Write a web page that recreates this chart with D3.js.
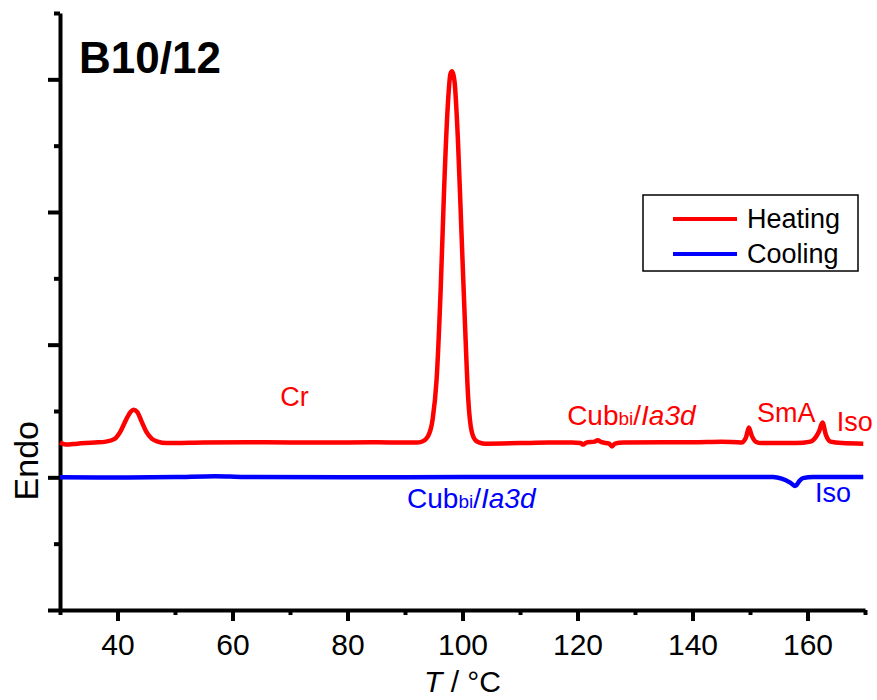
<!DOCTYPE html>
<html>
<head>
<meta charset="utf-8">
<script src="https://cdn.jsdelivr.net/npm/d3@7"></script>
<style>
  body { margin: 0; background: #fff; }
  svg { font-family: "Liberation Sans", Arial, sans-serif; }
</style>
</head>
<body>
<svg id="chart" width="877" height="700"></svg>
<script>
// DSC trace for B10/12 (arbitrary heat-flow units, cooling baseline = 0)
const heatingT = [30, 31, 33, 36, 38, 39.5, 40.5, 41.5, 42.3, 42.8, 43.4, 44.2, 45, 46, 47, 48.5,
  55, 65, 75, 85, 90, 92, 93, 94, 94.8, 95.5, 96.2, 96.8, 97.4, 97.9, 98.2, 98.6, 99.2, 99.8,
  100.4, 101, 101.6, 102.3, 103, 104, 110, 115, 119, 120.5, 121, 121.5, 123, 123.5, 124.2,
  125.5, 126, 126.5, 128, 135, 140, 145, 148.5, 149.3, 149.8, 150.3, 151, 152, 158, 160.5,
  161.5, 162, 162.6, 163.2, 164, 166, 169.7];
const heatingV = [0.262, 0.247, 0.254, 0.262, 0.269, 0.29, 0.345, 0.435, 0.495, 0.51, 0.495, 0.42,
  0.345, 0.29, 0.269, 0.258, 0.262, 0.265, 0.262, 0.265, 0.262, 0.262, 0.27, 0.31, 0.435, 0.74,
  1.41, 2.17, 2.77, 3.04, 3.06, 2.99, 2.55, 1.87, 1.19, 0.59, 0.345, 0.277, 0.262, 0.254, 0.258,
  0.262, 0.262, 0.258, 0.247, 0.262, 0.269, 0.28, 0.265, 0.254, 0.232, 0.254, 0.262, 0.265,
  0.265, 0.269, 0.262, 0.3, 0.375, 0.315, 0.269, 0.258, 0.258, 0.269, 0.307, 0.345, 0.413,
  0.32, 0.269, 0.258, 0.254];

const coolingT = [30, 40, 50, 57, 62, 80, 100, 130, 150, 154, 155.5, 157, 157.9, 158.5, 159.2, 161, 169.7];
const coolingV = [0, -0.002, 0.002, 0.009, 0.002, 0, 0.002, 0.002, 0.003, 0.002, -0.01, -0.04,
  -0.066, -0.033, -0.006, 0.002, 0.003];

const xMajorTicks = [40, 60, 80, 100, 120, 140, 160];
const xMinorTicks = [30, 50, 70, 90, 110, 130, 150, 170];
const yMajorTicks = [-1, 0, 1, 2, 3];
const yMinorTicks = [-0.5, 0.5, 1.5, 2.5, 3.5];

const seriesNames = ['Heating', 'Cooling'];
const seriesColors = ['#ff0000', '#0000ff'];

const svg = d3.select('#chart');

const x = d3.scaleLinear().domain([30, 170]).range([60, 865]);
const y = d3.scaleLinear().domain([-1, 3.5]).range([610, 13]);

const heating = heatingT.map((t, i) => ({ t, v: heatingV[i] }));
const cooling = coolingT.map((t, i) => ({ t, v: coolingV[i] }));

const line = d3.line()
  .x(d => x(d.t))
  .y(d => y(d.v))
  .curve(d3.curveMonotoneX);

// axes
function styleAxis(g) {
  g.select('.domain').attr('stroke', '#000').attr('stroke-width', 4);
  g.selectAll('.tick line').attr('stroke', '#000').attr('stroke-width', 4);
  g.selectAll('.tick text')
    .attr('fill', '#000')
    .attr('font-size', 30)
    .attr('font-family', '"Liberation Sans", Arial, sans-serif');
}

svg.append('g')
  .attr('transform', 'translate(0,610)')
  .call(d3.axisBottom(x).tickValues(xMinorTicks).tickSize(5).tickSizeOuter(0).tickFormat(''))
  .call(styleAxis);

svg.append('g')
  .attr('transform', 'translate(0,610)')
  .call(d3.axisBottom(x).tickValues(xMajorTicks).tickSize(11).tickSizeOuter(0).tickPadding(13))
  .call(styleAxis)
  .call(g => g.select('.domain').remove());

svg.append('g')
  .attr('transform', 'translate(60,0)')
  .call(d3.axisLeft(y).tickValues(yMinorTicks).tickSize(6).tickSizeOuter(0).tickFormat(''))
  .call(styleAxis);

svg.append('g')
  .attr('transform', 'translate(60,0)')
  .call(d3.axisLeft(y).tickValues(yMajorTicks).tickSize(12).tickSizeOuter(0).tickFormat(''))
  .call(styleAxis)
  .call(g => g.select('.domain').remove());

// traces
svg.append('path')
  .datum(cooling)
  .attr('fill', 'none')
  .attr('stroke', seriesColors[1])
  .attr('stroke-width', 4.5)
  .attr('stroke-linejoin', 'round')
  .attr('d', line);

svg.append('path')
  .datum(heating)
  .attr('fill', 'none')
  .attr('stroke', seriesColors[0])
  .attr('stroke-width', 4.5)
  .attr('stroke-linejoin', 'round')
  .attr('d', line);

// axis titles
const xTitle = svg.append('text')
  .attr('x', x(100))
  .attr('y', 692)
  .attr('text-anchor', 'middle')
  .attr('font-size', 30);
xTitle.append('tspan').attr('font-style', 'italic').text('T');
xTitle.append('tspan').text(' / °C');

svg.append('text')
  .attr('transform', `translate(38,${y(0.125)}) rotate(-90)`)
  .attr('text-anchor', 'middle')
  .attr('font-size', 34)
  .text('Endo');

svg.append('text')
  .attr('x', 79)
  .attr('y', 73)
  .attr('font-size', 44)
  .attr('font-weight', 'bold')
  .text('B10/12');

// phase labels
function cubLabel(t, v, color) {
  const txt = svg.append('text')
    .attr('x', x(t))
    .attr('y', y(v))
    .attr('fill', color)
    .attr('font-size', 28);
  txt.append('tspan').text('Cub');
  txt.append('tspan').attr('font-size', 19).text('bi');
  txt.append('tspan').text('/');
  txt.append('tspan').attr('font-style', 'italic').text('Ia3d');
}

svg.append('text').attr('x', x(68.3)).attr('y', y(0.535))
  .attr('fill', seriesColors[0]).attr('font-size', 27).text('Cr');
cubLabel(118.2, 0.397, seriesColors[0]);
svg.append('text').attr('x', x(151.2)).attr('y', y(0.42))
  .attr('fill', seriesColors[0]).attr('font-size', 27).text('SmA');
svg.append('text').attr('x', x(165.1)).attr('y', y(0.347))
  .attr('fill', seriesColors[0]).attr('font-size', 27).text('Iso');

cubLabel(90.35, -0.229, seriesColors[1]);
svg.append('text').attr('x', x(161.3)).attr('y', y(-0.189))
  .attr('fill', seriesColors[1]).attr('font-size', 27).text('Iso');

// legend
const legend = svg.append('g').attr('transform', 'translate(643,195)');
legend.append('rect')
  .attr('width', 215)
  .attr('height', 76)
  .attr('fill', '#fff')
  .attr('stroke', '#000')
  .attr('stroke-width', 1.5);

seriesNames.forEach((name, i) => {
  const row = legend.append('g').attr('transform', `translate(0,${24 + i * 35})`);
  row.append('line')
    .attr('x1', 30).attr('x2', 94)
    .attr('stroke', seriesColors[i])
    .attr('stroke-width', 4);
  row.append('text')
    .attr('x', 104)
    .attr('y', 9)
    .attr('font-size', 27)
    .text(name);
});
</script>
</body>
</html>
